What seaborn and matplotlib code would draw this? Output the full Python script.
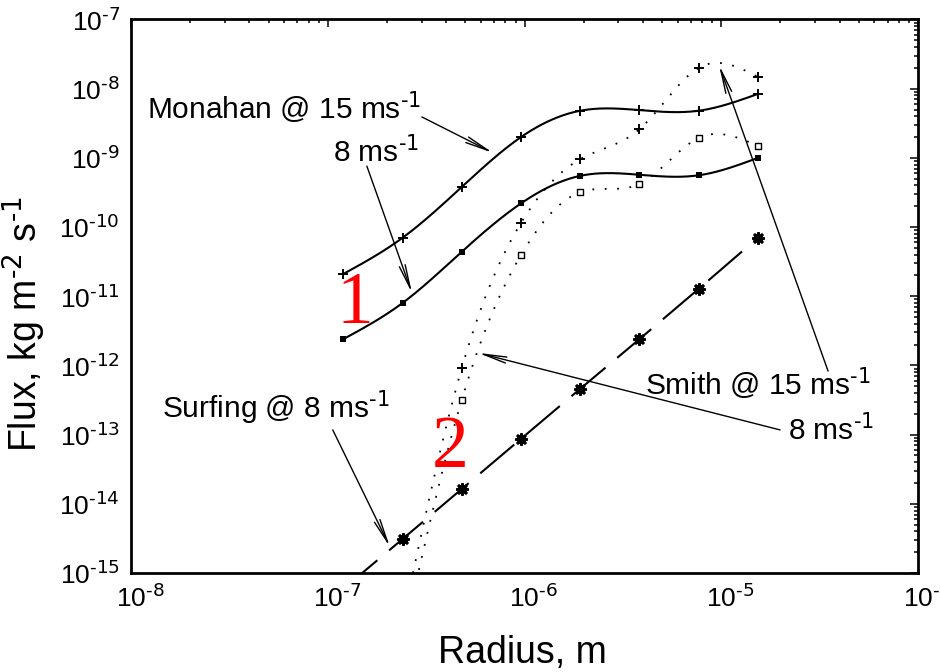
import numpy as np
import pandas as pd
import matplotlib
matplotlib.use("Agg")
import matplotlib.pyplot as plt
import matplotlib.ticker as mticker
import matplotlib.transforms as mtransforms
import seaborn as sns

# ---- data -----------------------------------------------------------------
radius = [1.2e-7, 2.4e-7, 4.8e-7, 9.6e-7, 1.92e-6, 3.84e-6, 7.68e-6, 1.536e-5]
monahan_15 = [2.1e-11, 7.0e-11, 3.8e-10, 2.0e-9, 4.8e-9, 4.9e-9, 4.8e-9, 8.4e-9]
monahan_8 = [2.4e-12, 8.0e-12, 4.4e-11, 2.2e-10, 5.5e-10, 5.7e-10, 5.6e-10, 1.0e-9]
smith_radius = radius[1:]
smith_15 = [2.0e-16, 9.2e-13, 1.15e-10, 9.6e-10, 2.6e-9, 2.0e-8, 1.48e-8]
smith_8 = [1.0e-16, 3.2e-13, 3.95e-11, 3.2e-10, 4.2e-10, 1.94e-9, 1.49e-9]
surfing_8 = [5.9e-16, 3.1e-15, 1.64e-14, 8.7e-14, 4.6e-13, 2.4e-12, 1.28e-11, 7.0e-11]

x_ticks = [1e-8, 1e-7, 1e-6, 1e-5, 1e-4]
x_exponents = ["-8", "-7", "-6", "-5", "-4"]
y_ticks = [1e-15, 1e-14, 1e-13, 1e-12, 1e-11, 1e-10, 1e-9, 1e-8, 1e-7]
y_exponents = ["-15", "-14", "-13", "-12", "-11", "-10", "-9", "-8", "-7"]


def power_label(exp):
    """'10' with a superscript exponent written with a plain hyphen."""
    return r"10$^{\text{%s}}$" % exp


def log_spline(x, y, n=400):
    """Natural cubic spline through the points in log-log space."""
    lx, ly = np.log10(x), np.log10(y)
    k = len(lx)
    h = np.diff(lx)
    A = np.zeros((k, k))
    b = np.zeros(k)
    A[0, 0] = A[-1, -1] = 1.0
    for i in range(1, k - 1):
        A[i, i - 1] = h[i - 1]
        A[i, i] = 2 * (h[i - 1] + h[i])
        A[i, i + 1] = h[i]
        b[i] = 6 * ((ly[i + 1] - ly[i]) / h[i] - (ly[i] - ly[i - 1]) / h[i - 1])
    M = np.linalg.solve(A, b)
    xs = np.linspace(lx[0], lx[-1], n)
    idx = np.clip(np.searchsorted(lx, xs) - 1, 0, k - 2)
    x0, x1 = lx[idx], lx[idx + 1]
    hh = x1 - x0
    ys = (M[idx] * (x1 - xs) ** 3 / (6 * hh) + M[idx + 1] * (xs - x0) ** 3 / (6 * hh)
          + (ly[idx] / hh - M[idx] * hh / 6) * (x1 - xs)
          + (ly[idx + 1] / hh - M[idx + 1] * hh / 6) * (xs - x0))
    return 10 ** xs, 10 ** ys


# ---- style ----------------------------------------------------------------
sns.set_theme(style="white")
plt.rcParams["font.family"] = ["Liberation Sans", "DejaVu Sans"]
plt.rcParams["mathtext.default"] = "regular"
plt.rcParams["lines.scale_dashes"] = False

fig, ax = plt.subplots(figsize=(9.4, 6.72), dpi=100)
fig.subplots_adjust(left=0.1394, right=0.9766, bottom=0.1473, top=0.971)
ax.set_xscale("log")
ax.set_yscale("log")

solid_lw = 1.5
dotted = (0, (1.3, 7.6))
dashed = (0, (32, 11))

curves = [
    (radius, monahan_15, "-", solid_lw),
    (radius, monahan_8, "-", solid_lw),
    (smith_radius, smith_15, dotted, 1.3),
    (smith_radius, smith_8, dotted, 1.3),
]
for xr, yv, ls, lw in curves:
    xs, ys = log_spline(xr, yv)
    sns.lineplot(x=xs, y=ys, ax=ax, color="black", lw=lw, linestyle=ls,
                 estimator=None, sort=False)

sns.lineplot(x=radius, y=surfing_8, ax=ax, color="black", lw=solid_lw,
             linestyle=dashed, estimator=None, sort=False)

# markers on the data points
sns.scatterplot(x=radius, y=monahan_15, ax=ax, marker="+", s=60, color="black",
                linewidth=1.4, zorder=5)
sns.scatterplot(x=radius, y=monahan_8, ax=ax, marker="s", s=18, color="black",
                linewidth=0, zorder=5)
sns.scatterplot(x=smith_radius, y=smith_15, ax=ax, marker="+", s=60, color="black",
                linewidth=1.4, zorder=5)
sns.scatterplot(x=smith_radius, y=smith_8, ax=ax, marker="s", s=22, facecolor="white",
                edgecolor="black", linewidth=1.0, zorder=5)
sns.scatterplot(x=radius, y=surfing_8, ax=ax, marker=(8, 2, 0), s=50, color="black",
                edgecolor="black", linewidth=2.2, zorder=5)

# ---- axes -----------------------------------------------------------------
ax.set_xlim(1e-8, 1e-4)
ax.set_ylim(1e-15, 1e-7)
ax.set_xticks(x_ticks)
ax.set_xticklabels([power_label(e) for e in x_exponents])
ax.set_yticks(y_ticks)
ax.set_yticklabels([power_label(e) for e in y_exponents])
ax.xaxis.set_minor_locator(mticker.LogLocator(base=10, subs=np.arange(2, 10), numticks=50))
ax.yaxis.set_minor_locator(mticker.LogLocator(base=10, subs=np.arange(2, 10), numticks=50))
ax.xaxis.set_minor_formatter(mticker.NullFormatter())
ax.yaxis.set_minor_formatter(mticker.NullFormatter())

ax.tick_params(which="both", direction="in", top=True, right=True,
               colors="black", width=1.1, labelsize=19)
ax.tick_params(which="major", length=5.8, pad=8)
ax.tick_params(which="minor", length=3.2)
for sp in ax.spines.values():
    sp.set_linewidth(2.0)
    sp.set_color("black")

# centre the "10" of each x label on its tick
shift = mtransforms.ScaledTranslation(9 / 100, 0, fig.dpi_scale_trans)
for lbl in ax.get_xticklabels():
    lbl.set_transform(lbl.get_transform() + shift)

ax.set_xlabel("Radius, m", fontsize=27, color="black")
ax.set_ylabel(r"Flux, kg m$^{\text{-2}}$ s$^{\text{-1}}$", fontsize=27, color="black")
ax.xaxis.set_label_coords(0.497, -0.112)
ax.yaxis.set_label_coords(-0.106, 0.45)

# ---- annotations ----------------------------------------------------------
unit = r" ms$^{\text{-1}}$"
txt = dict(fontsize=21.5, color="black", ha="left", va="baseline")
ax.text(1.20e-8, 3.73e-9, "Monahan @ 15" + unit, **txt)
ax.text(1.067e-7, 8.81e-10, "8" + unit, **txt)
ax.text(4.10e-6, 3.87e-13, "Smith @ 15" + unit, **txt)
ax.text(2.19e-5, 8.57e-14, "8" + unit, **txt)
ax.text(1.43e-8, 1.78e-13, "Surfing @ 8" + unit, **txt)

arrow = dict(arrowstyle="->,head_length=1.7,head_width=0.22", color="black",
             lw=1.0, mutation_scale=10, shrinkA=0, shrinkB=0)
arrows = [
    ((3.01e-7, 3.9e-9), (6.92e-7, 1.18e-9)),
    ((1.58e-7, 7.6e-10), (2.68e-7, 1.11e-11)),
    ((3.49e-5, 8.3e-13), (9.74e-6, 2.2e-8)),
    ((1.99e-5, 1.17e-13), (5.8e-7, 1.52e-12)),
    ((1.06e-7, 1.17e-13), (2.07e-7, 2.38e-15)),
]
for start, tip in arrows:
    ax.annotate("", xy=tip, xytext=start, arrowprops=arrow)

red = dict(fontsize=53, color="red", ha="center", va="baseline",
           family=["Liberation Serif", "DejaVu Serif"])
ax.text(1.375e-7, 4.11e-12, "1", **red)
ax.text(4.18e-7, 3.41e-14, "2", **red)

fig.savefig("out.png", dpi=100, facecolor="white")
